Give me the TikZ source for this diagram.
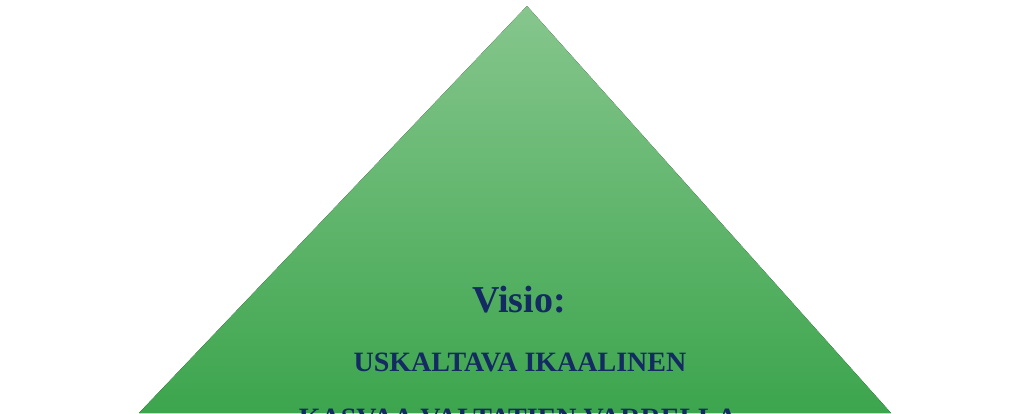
\documentclass[tikz,border=0pt]{standalone}
\usepackage{fontspec}
\setmainfont{Liberation Serif}
\definecolor{pyramidtop}{RGB}{134,198,141}
\definecolor{pyramidbottom}{RGB}{60,165,77}
\definecolor{visioblue}{RGB}{20,42,98}

\begin{document}
\begin{tikzpicture}[x=1pt,y=-1pt]

\useasboundingbox (0,0) rectangle (1023,413);
\coordinate (Top) at (527,6);
\coordinate (Left) at (139,413);
\coordinate (Right) at (891,413);
\coordinate (V) at (519,312);
\coordinate (U) at (520,371);
\coordinate (K) at (518,427);


\fill [top color=pyramidtop, bottom color=pyramidbottom]
(Top)--(Right)--(Left)--cycle;
\node [anchor=base, text=visioblue, font=\fontsize{38}{40}\selectfont\bfseries] (visio) at (V) {Visio:};
\node [anchor=base, text=visioblue, font=\fontsize{28}{30}\selectfont\bfseries] (uskaltava) at (U) {USKALTAVA IKAALINEN};
\node [anchor=base, text=visioblue, font=\fontsize{28}{30}\selectfont\bfseries] (kasvaa) at (K) {KASVAA VALTATIEN VARRELLA};
\end{tikzpicture}
\end{document}
